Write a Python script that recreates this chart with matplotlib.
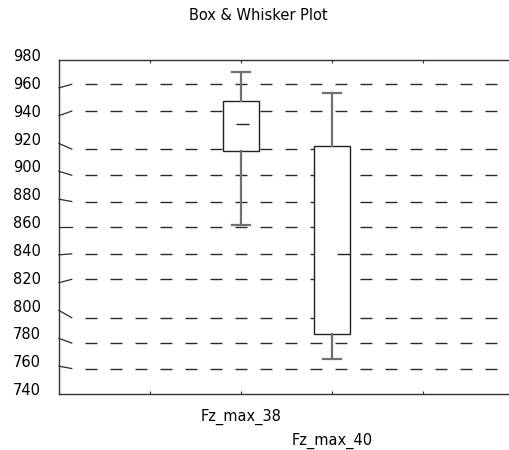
import matplotlib.pyplot as plt
import matplotlib.transforms as mtransforms

plt.rcParams['font.family'] = ['DejaVu Sans']

# box statistics
names = ["Fz_max_38", "Fz_max_40"]
whisker_low = [861.7, 765.4]
q1 = [914.8, 783.1]
medians = [934.0, 840.5]
q3 = [950.3, 918.0]
whisker_high = [971.4, 956.0]
positions = [2, 3]

# y ticks and the (slightly shifted) grid lines they point to
ytick_vals = [740, 760, 780, 800, 820, 840, 860, 880, 900, 920, 940, 960, 980]
grid_ticks = [760, 780, 800, 820, 840, 860, 880, 900, 920, 940, 960]
grid_vals = [758.3, 776.6, 794.8, 822.4, 840.7, 860.0, 878.3, 897.2, 916.0, 943.3, 962.5]

fig = plt.figure(figsize=(5.09, 4.5), dpi=100)
ax = fig.add_axes([59 / 509, 56 / 450, 455 / 509, 334 / 450])
ax.set_xlim(0, 5)
ax.set_ylim(740, 980)

# dashed grid lines
blend = mtransforms.blended_transform_factory(ax.transAxes, ax.transData)
ax.hlines(grid_vals, 0.057, 0.971, transform=blend, colors='#2a2a2a',
          linewidth=1.0, linestyles=(0, (8.6, 9.4)), zorder=1)
# slanted tick marks from the axis to each grid line
for t, g in zip(grid_ticks, grid_vals):
    ax.plot([0, 0.028], [t, g], transform=blend, color='#2a2a2a', lw=0.9,
            clip_on=False, zorder=1)

stats = []
for i in range(len(names)):
    stats.append({'whislo': whisker_low[i], 'q1': q1[i], 'med': medians[i],
                  'q3': q3[i], 'whishi': whisker_high[i], 'fliers': [],
                  'label': names[i]})

ax.bxp(stats, positions=positions, widths=0.4, showfliers=False,
       patch_artist=True, manage_ticks=False,
       boxprops=dict(facecolor='white', edgecolor='#222222', linewidth=1.0),
       whiskerprops=dict(color='#707070', linewidth=1.6),
       capprops=dict(color='#707070', linewidth=1.6),
       medianprops=dict(visible=False), zorder=3)

# short median marks
median_span = [(-0.06, 0.085), (0.06, 0.2)]
for p, m, (a, b) in zip(positions, medians, median_span):
    ax.hlines(m, p + a, p + b, colors='#222222', linewidth=1.0, zorder=4)

# axes frame
for side in ['left', 'top', 'bottom']:
    ax.spines[side].set_color('#333333')
    ax.spines[side].set_linewidth(1.0)
ax.spines['right'].set_visible(False)

ax.set_yticks(ytick_vals)
ax.set_yticklabels([str(v) for v in ytick_vals], fontsize=10.5)
ax.tick_params(axis='y', length=0, pad=13)
for lab in ax.get_yticklabels():
    lab.set_transform(lab.get_transform() +
                      mtransforms.ScaledTranslation(0, 0.05, fig.dpi_scale_trans))

ax.set_xticks([1, 2, 3, 4])
ax.set_xticklabels(['', names[0], names[1], ''], fontsize=10.5)
ax.tick_params(axis='x', direction='in', length=2.5, top=True, color='#333333')
ticks = ax.xaxis.get_major_ticks()
ticks[1].set_pad(11)
ticks[2].set_pad(28)

fig.text(0.507, 1 - 16 / 450, "Box & Whisker Plot", ha='center', va='center',
         fontsize=10.5)

fig.savefig("out.png", dpi=100)
